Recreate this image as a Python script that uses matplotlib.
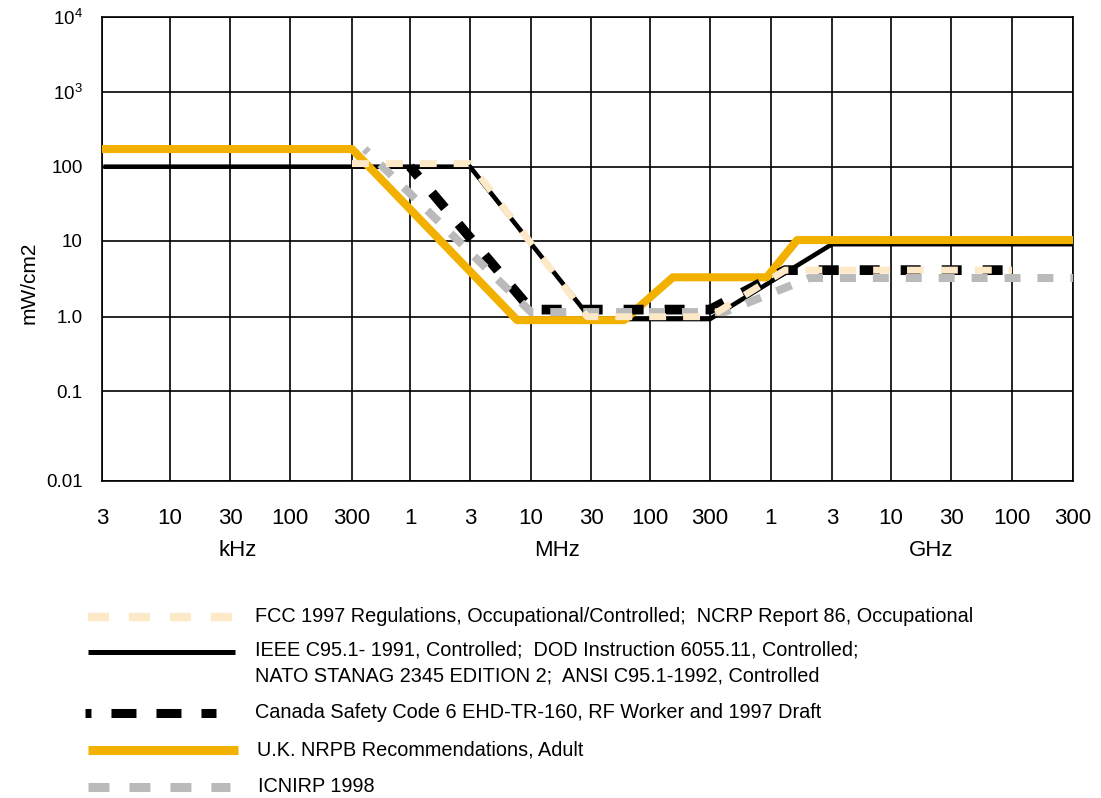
import numpy as np
import matplotlib
matplotlib.use('Agg')
import matplotlib.pyplot as plt
from matplotlib.lines import Line2D

plt.rcParams['font.family'] = ['Liberation Sans', 'DejaVu Sans']
plt.rcParams['mathtext.fontset'] = 'custom'
plt.rcParams['mathtext.rm'] = 'Liberation Sans'
plt.rcParams['lines.scale_dashes'] = False

# --- axis ticks ---
freq_ticks = [3e3, 1e4, 3e4, 1e5, 3e5, 1e6, 3e6, 1e7, 3e7, 1e8, 3e8,
              1e9, 3e9, 1e10, 3e10, 1e11, 3e11]
freq_labels = ['3', '10', '30', '100', '300', '1', '3', '10', '30', '100', '300',
               '1', '3', '10', '30', '100', '300']
band_labels = ['kHz', 'MHz', 'GHz']
density_ticks = [0.01, 0.1, 1, 10, 100, 1e3, 1e4]
density_labels = ['0.01', '0.1', '1.0', '10', '100',
                  r'$\mathregular{10^3}$', r'$\mathregular{10^4}$']

# --- exposure limits: frequency (Hz) vs power density (mW/cm2) ---
fcc_f = [3e5, 3e6, 2.8e7, 3e8, 1.29e9, 1e11]
fcc_s = [110, 110, 1.0, 1.0, 4.1, 4.1]

ieee_f = [3.2e3, 3e6, 3e7, 3e8, 3e9, 3e11]
ieee_s = [100, 100, 0.93, 0.93, 9.0, 9.0]

canada_f = [1e6, 1e7, 3e8, 1.29e9, 1e11]
canada_s = [100, 1.24, 1.24, 4.1, 4.1]

nrpb_f = [3e3, 3e5, 7.6e6, 5.9e7, 1.52e8, 9.2e8, 1.6e9, 3e11]
nrpb_s = [172, 172, 0.9, 0.9, 3.3, 3.3, 10.2, 10.2]

icnirp_f = [3.9e5, 1e7, 4e8, 2e9, 3e11]
icnirp_s = [172, 1.15, 1.15, 3.23, 3.23]

legend_labels = [
    'FCC 1997 Regulations, Occupational/Controlled;  NCRP Report 86, Occupational',
    'IEEE C95.1- 1991, Controlled;  DOD Instruction 6055.11, Controlled;\n'
    'NATO STANAG 2345 EDITION 2;  ANSI C95.1-1992, Controlled',
    'Canada Safety Code 6 EHD-TR-160, RF Worker and 1997 Draft',
    'U.K. NRPB Recommendations, Adult',
    'ICNIRP 1998',
]

ORANGE = '#F2B000'
CREAM = '#FDE8C8'
GRAY = '#BABABA'

W, H = 1101, 798

# the printed grid is not quite a true log grid: spacing of the gridlines (px)
x_grid = [0, 68, 128, 188, 250, 308, 368, 429, 489, 548, 608, 669, 730, 789, 849, 910, 971]
y_grid = [0, 89.7, 164, 240, 314, 389, 463.4]
x_logs = np.log10(freq_ticks)
y_logs = np.log10(density_ticks)


def fwd_x(f):
    with np.errstate(divide='ignore', invalid='ignore'):
        return np.interp(np.log10(f), x_logs, x_grid)


def inv_x(p):
    return 10 ** np.interp(p, x_grid, x_logs)


def fwd_y(s):
    with np.errstate(divide='ignore', invalid='ignore'):
        return np.interp(np.log10(s), y_logs, y_grid)


def inv_y(p):
    return 10 ** np.interp(p, y_grid, y_logs)


fig = plt.figure(figsize=(W / 100, H / 100), dpi=100)
ax = fig.add_axes([102 / W, 1 - 480.7 / H, (1073 - 102) / W, (480.7 - 17.3) / H])
ax.set_xscale('function', functions=(fwd_x, inv_x))
ax.set_yscale('function', functions=(fwd_y, inv_y))
ax.set_xlim(3e3, 3e11)
ax.set_ylim(0.01, 1e4)

ax.set_xticks(freq_ticks)
ax.set_xticklabels(freq_labels, fontsize=16)
ax.set_yticks(density_ticks)
ax.set_yticklabels(density_labels, fontsize=13.5)
ax.minorticks_off()
ax.tick_params(axis='x', length=0, pad=20)
ax.tick_params(axis='y', length=0, pad=14)
ax.grid(True, color='black', linewidth=1.2)
ax.set_axisbelow(True)
for sp in ax.spines.values():
    sp.set_linewidth(1.2)

fig.text(29 / W, 1 - 283 / H, 'mW/cm2', fontsize=15, rotation=90,
         ha='center', va='center')

# limit curves
ax.plot(ieee_f, ieee_s, color='black', lw=3.3, zorder=3)
ax.plot(nrpb_f, nrpb_s, color=ORANGE, lw=5.8, zorder=4)
ax.plot(canada_f, canada_s, color='black', lw=7, ls=(5, (14.4, 15.1)), zorder=5)
ax.plot(icnirp_f, icnirp_s, color=GRAY, lw=5.8, ls=(8, (11.5, 12.2)), zorder=6)
ax.plot(fcc_f, fcc_s, color=CREAM, lw=5.0, ls=(0, (12.2, 12.2)), zorder=7)

# band labels under the tick labels
for lab, px in zip(band_labels, [238, 557, 931]):
    fig.text(px / W, 1 - 550 / H, lab, fontsize=16, ha='center', va='center')

# legend, drawn by hand below the chart
legend_styles = [
    dict(color=CREAM, lw=6.0, ls=(0, (15.1, 14.4)), x0=88, x1=232, y=617),
    dict(color='black', lw=3.6, ls='-', x0=88, x1=235, y=652),
    dict(color='black', lw=6.5, ls=(13.7, (18.0, 14.4)), x0=85, x1=216, y=713),
    dict(color=ORANGE, lw=6.5, ls='-', x0=88, x1=238, y=750),
    dict(color=GRAY, lw=6.5, ls=(0, (15.1, 14.4)), x0=88, x1=230, y=787),
]
text_x = [255, 255, 255, 257, 258]
for st, lab, tx in zip(legend_styles, legend_labels, text_x):
    fig.add_artist(Line2D([st['x0'] / W, st['x1'] / W], [1 - st['y'] / H] * 2,
                          transform=fig.transFigure, color=st['color'],
                          lw=st['lw'], ls=st['ls'], solid_capstyle='butt'))
    if '\n' in lab:
        fig.text(tx / W, 1 - (st['y'] - 11) / H, lab, fontsize=14.3,
                 ha='left', va='top', linespacing=1.4)
    else:
        fig.text(tx / W, 1 - st['y'] / H, lab, fontsize=14.3,
                 ha='left', va='center')

plt.savefig('out.png', dpi=100)
